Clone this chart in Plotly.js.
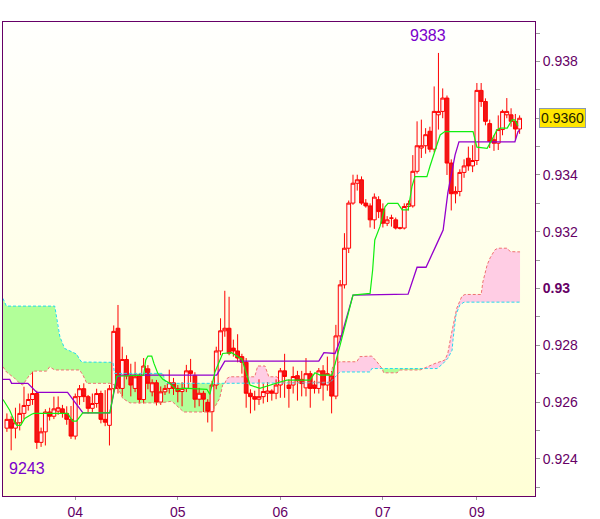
<!DOCTYPE html>
<html><head><meta charset="utf-8">
<script src="https://cdn.plot.ly/plotly-3.0.1.min.js"></script>
<style>
html,body{margin:0;padding:0;background:#fff;}
#wrap{position:relative;width:600px;height:519px;}
#bg{position:absolute;left:3px;top:22px;width:532px;height:474px;background:linear-gradient(#fffffd,#ffffd6);}
#chart{position:absolute;left:0;top:0;width:600px;height:519px;}
</style></head><body>
<div id="wrap"><div id="bg"></div><div id="chart"></div></div>
<script>
// ---- data (hourly candles, x = bar index) ----
const dayTickIdx = [16, 40, 64, 88, 110];
const dayTickText = ['04', '05', '06', '07', '09'];
const priceTicks = [0.924, 0.926, 0.928, 0.930, 0.932, 0.934, 0.936, 0.938];
const priceTickText = ['0.924', '0.926', '0.928', '<b>0.93</b>', '0.932', '0.934', '', '0.938'];

const openP = [0.92508,0.92539,0.92508,0.92527,0.92560,0.92588,0.92609,0.92630,0.92458,0.92495,
0.92565,0.92550,0.92568,0.92576,0.92560,0.92539,0.92480,0.92619,0.92647,0.92619,
0.92578,0.92595,0.92630,0.92539,0.92518,0.92647,0.92860,0.92648,0.92750,0.92692,
0.92648,0.92692,0.92609,0.92717,0.92636,0.92668,0.92600,0.92636,0.92648,0.92668,
0.92648,0.92637,0.92648,0.92710,0.92693,0.92610,0.92631,0.92599,0.92566,0.92660,
0.92780,0.92851,0.92860,0.92790,0.92780,0.92760,0.92740,0.92631,0.92619,0.92610,
0.92619,0.92631,0.92639,0.92631,0.92660,0.92710,0.92660,0.92660,0.92693,0.92680,
0.92650,0.92700,0.92660,0.92648,0.92710,0.92660,0.92692,0.92621,0.92833,0.93013,
0.93142,0.93301,0.93371,0.93383,0.93301,0.93291,0.93242,0.93313,0.93280,0.93230,
0.93248,0.93242,0.93213,0.93213,0.93289,0.93291,0.93413,0.93495,0.93503,0.93554,
0.93491,0.93612,0.93624,0.93671,0.93442,0.93334,0.93342,0.93409,0.93459,0.93432,
0.93451,0.93698,0.93659,0.93581,0.93524,0.93512,0.93560,0.93612,0.93612,0.93589,
0.93562];
const highP = [0.92560,0.92550,0.92580,0.92595,0.92654,0.92630,0.92707,0.92640,0.92510,0.92575,
0.92580,0.92619,0.92620,0.92590,0.92585,0.92586,0.92630,0.92660,0.92666,0.92625,
0.92630,0.92647,0.92640,0.92642,0.92660,0.92870,0.92942,0.92795,0.92765,0.92735,
0.92742,0.92700,0.92755,0.92730,0.92680,0.92678,0.92655,0.92660,0.92714,0.92685,
0.92660,0.92670,0.92731,0.92752,0.92705,0.92650,0.92640,0.92610,0.92675,0.92795,
0.92895,0.92992,0.92971,0.92820,0.92839,0.92770,0.92755,0.92645,0.92640,0.92680,
0.92665,0.92670,0.92645,0.92680,0.92720,0.92770,0.92680,0.92725,0.92710,0.92710,
0.92755,0.92710,0.92675,0.92720,0.92730,0.92760,0.92710,0.92872,0.93030,0.93195,
0.93310,0.93401,0.93401,0.93395,0.93315,0.93300,0.93335,0.93325,0.93300,0.93255,
0.93260,0.93250,0.93217,0.93300,0.93310,0.93470,0.93589,0.93595,0.93565,0.93570,
0.93712,0.93830,0.93705,0.93680,0.93455,0.93360,0.93420,0.93455,0.93500,0.93505,
0.93724,0.93724,0.93670,0.93595,0.93540,0.93610,0.93630,0.93671,0.93635,0.93615,
0.93610];
const lowP = [0.92495,0.92430,0.92472,0.92500,0.92540,0.92570,0.92590,0.92435,0.92442,0.92447,
0.92535,0.92540,0.92555,0.92545,0.92520,0.92470,0.92468,0.92590,0.92600,0.92560,
0.92565,0.92580,0.92525,0.92515,0.92447,0.92635,0.92630,0.92620,0.92680,0.92620,
0.92635,0.92595,0.92595,0.92645,0.92620,0.92588,0.92590,0.92625,0.92630,0.92625,
0.92599,0.92585,0.92635,0.92670,0.92580,0.92585,0.92565,0.92528,0.92496,0.92645,
0.92765,0.92830,0.92765,0.92760,0.92740,0.92700,0.92580,0.92560,0.92570,0.92590,
0.92595,0.92600,0.92605,0.92610,0.92615,0.92615,0.92580,0.92630,0.92605,0.92620,
0.92620,0.92580,0.92630,0.92630,0.92605,0.92640,0.92560,0.92610,0.92820,0.93000,
0.93125,0.93295,0.93345,0.93295,0.93285,0.93215,0.93210,0.93248,0.93215,0.93220,
0.93218,0.93208,0.93208,0.93208,0.93275,0.93285,0.93405,0.93460,0.93475,0.93480,
0.93480,0.93560,0.93600,0.93400,0.93275,0.93300,0.93325,0.93390,0.93415,0.93410,
0.93435,0.93640,0.93575,0.93495,0.93485,0.93488,0.93540,0.93600,0.93570,0.93525,
0.93545];
const closeP = [0.92539,0.92508,0.92527,0.92560,0.92588,0.92609,0.92630,0.92458,0.92495,0.92565,
0.92550,0.92576,0.92580,0.92560,0.92539,0.92480,0.92619,0.92647,0.92619,0.92578,
0.92595,0.92630,0.92539,0.92529,0.92647,0.92849,0.92648,0.92750,0.92692,0.92660,
0.92689,0.92609,0.92727,0.92666,0.92668,0.92600,0.92636,0.92648,0.92668,0.92648,
0.92637,0.92648,0.92710,0.92701,0.92610,0.92631,0.92610,0.92566,0.92660,0.92780,
0.92851,0.92860,0.92772,0.92780,0.92755,0.92740,0.92631,0.92619,0.92610,0.92619,
0.92637,0.92639,0.92631,0.92660,0.92710,0.92690,0.92648,0.92690,0.92675,0.92665,
0.92700,0.92648,0.92648,0.92710,0.92660,0.92700,0.92621,0.92833,0.93013,0.93142,
0.93301,0.93371,0.93383,0.93301,0.93291,0.93242,0.93322,0.93271,0.93230,0.93242,
0.93248,0.93213,0.93213,0.93289,0.93299,0.93413,0.93503,0.93503,0.93542,0.93491,
0.93624,0.93624,0.93671,0.93442,0.93334,0.93342,0.93409,0.93432,0.93432,0.93451,
0.93698,0.93659,0.93589,0.93518,0.93512,0.93560,0.93624,0.93624,0.93589,0.93562,
0.93600];

// Tenkan-sen (green)
const tenkanX = [-0.91,0.66,1.83,2.3,3.23,4.17,5.8,6.3,14.2,15.4,16.3,17.0,17.75,24.1,24.8,25.7,32.0,32.5,33.0,33.9,
34.4,35.3,36.5,38.1,39.8,41.2,46.8,47.5,48.7,50.5,52.6,55.0,56.9,59.2,63.2,65.5,70.9,72.1,73.3,76.1,
77.9,81.0,85.0,85.6,86.1,87.3,88.5,89.2,91.5,92.5,93.9,94.8,95.5,98.3,99.0,100.2,101.4,102.5,109.1,110.0,
112.4,113.5,114.7,115.4,117.1,118.2,118.9,119.6];
const tenkanY = [0.92609,0.92571,0.92530,0.92518,0.92518,0.92542,0.92557,0.92560,0.92560,0.92533,
0.92533,0.92548,0.92562,0.92562,0.92624,0.92691,0.92695,0.92748,0.92762,0.92762,
0.92737,0.92702,0.92680,0.92666,0.92642,0.92649,0.92645,0.92627,0.92706,0.92771,
0.92774,0.92751,0.92660,0.92648,0.92667,0.92677,0.92677,0.92703,0.92695,0.92695,
0.92795,0.92977,0.92983,0.93065,0.93171,0.93218,0.93288,0.93300,0.93300,0.93277,
0.93277,0.93359,0.93394,0.93394,0.93430,0.93489,0.93541,0.93553,0.93553,0.93498,
0.93494,0.93524,0.93559,0.93565,0.93565,0.93594,0.93594,0.93573];

// Kijun-sen (purple)
const kijunX = [-0.91,0.66,1.1,4.9,7.0,14.2,17.8,24.1,25.7,26.4,49.1,51.0,73.0,74.2,76.8,78.0,81.0,93.9,96.0,98.1,
100.7,102.1,103.2,104.9,105.8,118.9,119.6,120.0];
const kijunY = [0.92680,0.92680,0.92666,0.92666,0.92634,0.92634,0.92562,0.92562,0.92684,0.92695,
0.92695,0.92744,0.92744,0.92774,0.92771,0.92818,0.92977,0.92980,0.93075,0.93075,
0.93160,0.93206,0.93337,0.93471,0.93517,0.93517,0.93552,0.93559];

// Senkou span B (cyan dashed)
const spanBX = [-0.91,-0.12,11.2,11.9,12.4,13.5,14.7,16.3,17.0,17.5,24.8,25.2,36.5,37.2,51.0,64.0,75.6,77.9,85.0,85.4,
87.8,97.5,100.7,102.1,103.2,104.2,104.4,105.1,106.0,107.0,120.1];
const spanBY = [0.92965,0.92938,0.92938,0.92865,0.92830,0.92789,0.92781,0.92769,0.92751,0.92741,
0.92740,0.92701,0.92701,0.92666,0.92666,0.92668,0.92668,0.92706,0.92706,0.92718,
0.92718,0.92718,0.92718,0.92736,0.92754,0.92783,0.92818,0.92907,0.92942,0.92952,0.92952];

// Senkou span A (salmon dashed)
const spanAX = [-0.91,-0.1,1.8,3.0,3.7,5.3,6.5,9.3,10.0,11.2,17.0,17.8,18.7,24.1,25.2,25.9,27.1,28.8,35.8,38.6,
40.5,41.4,48.0,49.8,50.5,51.0,51.5,52.2,58.0,58.7,60.4,61.3,63.2,64.0,75.6,76.3,77.9,81.9,82.6,85.4,
86.6,87.3,87.8,88.2,91.3,92.0,96.7,97.5,98.3,100.2,102.5,103.2,103.9,104.4,105.3,106.5,107.2,111.0,111.4,112.4,
113.1,114.2,114.9,117.1,117.8,120.1];
const spanAY = [0.92724,0.92706,0.92684,0.92666,0.92660,0.92695,0.92709,0.92709,0.92724,0.92713,
0.92713,0.92695,0.92666,0.92666,0.92660,0.92654,0.92613,0.92597,0.92597,0.92603,
0.92577,0.92565,0.92565,0.92613,0.92660,0.92666,0.92683,0.92689,0.92689,0.92727,
0.92727,0.92689,0.92689,0.92670,0.92670,0.92730,0.92742,0.92742,0.92760,0.92762,
0.92742,0.92730,0.92718,0.92703,0.92703,0.92713,0.92713,0.92718,0.92724,0.92736,
0.92748,0.92772,0.92830,0.92871,0.92931,0.92973,0.92979,0.92979,0.93023,0.93083,
0.93108,0.93136,0.93142,0.93142,0.93130,0.93129];

// cloud segments: from, to, which span is on top
const cloudFrom = [-0.91, 51.0, 75.6, 87.8, 97.5];
const cloudTo   = [51.0, 64.0, 87.8, 97.5, 120.1];
const cloudTop  = ['B', 'A', 'A', 'B', 'A'];

// ---- build ----
const idx = openP.map((_, i) => i);
const shapes = cloudFrom.map((f, k) => {
  const t = cloudTo[k];
  const b = [], a = [];
  spanBX.forEach((x, j) => { if (x >= f - 1e-9 && x <= t + 1e-9) b.push([x, spanBY[j]]); });
  spanAX.forEach((x, j) => { if (x >= f - 1e-9 && x <= t + 1e-9) a.push([x, spanAY[j]]); });
  const pts = b.concat(a.reverse());
  const path = 'M' + pts.map(p => p[0] + ',' + p[1]).join('L') + 'Z';
  return {type: 'path', xref: 'x', yref: 'y', path: path, layer: 'below',
          fillcolor: cloudTop[k] === 'B' ? '#b2ff99' : '#ffcde4', line: {width: 0}};
});

let hiI = 0, loI = 0;
highP.forEach((v, i) => { if (v > highP[hiI]) hiI = i; });
lowP.forEach((v, i) => { if (v < lowP[loI]) loI = i; });
const last = closeP[closeP.length - 1];
const four = v => String(Math.round(v * 10000)).slice(-4);

const font = 'Arial, "Liberation Sans", sans-serif';
const traces = [
  {type: 'candlestick', x: idx, open: openP, high: highP, low: lowP, close: closeP,
   increasing: {line: {color: '#ff0000', width: 1}, fillcolor: '#fff4f4'},
   decreasing: {line: {color: '#ff0000', width: 1}, fillcolor: '#f01818'},
   whiskerwidth: 0, hoverinfo: 'skip', showlegend: false},
  {type: 'scatter', mode: 'lines', x: spanBX, y: spanBY, line: {color: '#22dcee', width: 1, dash: '3px,2px'}, hoverinfo: 'skip', showlegend: false},
  {type: 'scatter', mode: 'lines', x: spanAX, y: spanAY, line: {color: '#f07272', width: 1, dash: '3px,2px'}, hoverinfo: 'skip', showlegend: false},
  {type: 'scatter', mode: 'lines', x: kijunX, y: kijunY, line: {color: '#9400cc', width: 1.3}, hoverinfo: 'skip', showlegend: false},
  {type: 'scatter', mode: 'lines', x: tenkanX, y: tenkanY, line: {color: '#10ee10', width: 1.2}, hoverinfo: 'skip', showlegend: false}
];

const layout = {
  width: 600, height: 519,
  margin: {l: 3, r: 65, t: 22, b: 23, pad: 0},
  paper_bgcolor: 'rgba(0,0,0,0)', plot_bgcolor: 'rgba(0,0,0,0)',
  showlegend: false, hovermode: false, boxgap: 0.1, boxgroupgap: 0.02,
  xaxis: {range: [-0.913, 123.6], autorange: false, rangeslider: {visible: false},
          tickmode: 'array', tickvals: dayTickIdx, ticktext: dayTickText,
          ticks: 'outside', ticklen: 3, tickcolor: '#9a9a9a', tickwidth: 1,
          tickfont: {family: font, size: 14, color: '#660066'},
          showgrid: false, zeroline: false, showline: true, mirror: true, linecolor: '#660066', linewidth: 1},
  yaxis: {range: [0.92269, 0.93939], autorange: false, side: 'right',
          tickmode: 'array', tickvals: priceTicks, ticktext: priceTickText,
          ticks: 'outside', ticklen: 4, tickcolor: '#9a9a9a', tickwidth: 1,
          minor: {dtick: 0.001, tick0: 0.92, ticks: 'outside', ticklen: 4, tickcolor: '#9a9a9a', tickwidth: 1},
          tickfont: {family: font, size: 14, color: '#660066'},
          showgrid: false, zeroline: false, showline: true, mirror: true, linecolor: '#660066', linewidth: 1},
  shapes: shapes,
  annotations: [
    {x: hiI, y: highP[hiI], xref: 'x', yref: 'y', text: four(highP[hiI]), showarrow: false,
     xanchor: 'center', yanchor: 'bottom', xshift: -10, yshift: 7, font: {family: font, size: 16, color: '#7a00cc'}},
    {x: loI, y: lowP[loI], xref: 'x', yref: 'y', text: four(lowP[loI]), showarrow: false,
     xanchor: 'center', yanchor: 'top', xshift: 16, yshift: -8, font: {family: font, size: 16, color: '#7a00cc'}},
    {x: 1, xref: 'paper', y: last, yref: 'y', text: last.toFixed(4), showarrow: false,
     xanchor: 'left', xshift: 4, bgcolor: '#ffe600', bordercolor: '#8a9ab0', borderwidth: 1, borderpad: 1,
     font: {family: font, size: 14, color: '#222200'}}
  ]
};
Plotly.newPlot('chart', traces, layout, {staticPlot: true, displayModeBar: false});
</script>
</body></html>
